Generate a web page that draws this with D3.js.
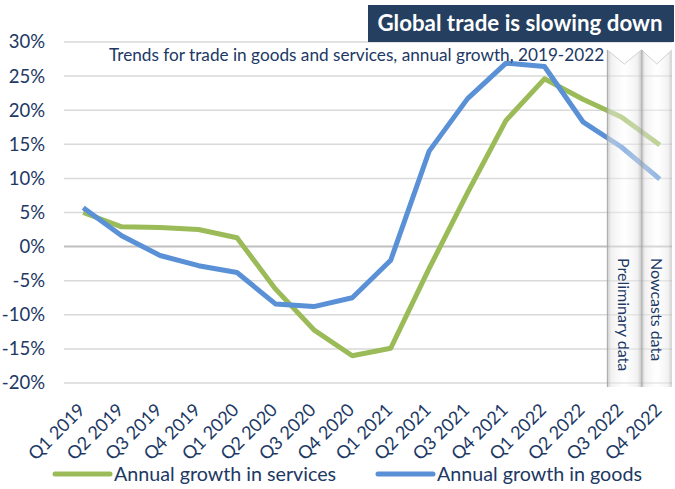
<!DOCTYPE html>
<html>
<head>
<meta charset="utf-8">
<script src="https://cdn.jsdelivr.net/npm/d3@7"></script>
<style>
  body { margin: 0; background: #fff; }
  svg { display: block; font-family: Lato, "Open Sans", sans-serif; }
</style>
</head>
<body>
<div id="chart"></div>
<script>
'use strict';

const quarters = ["Q1 2019", "Q2 2019", "Q3 2019", "Q4 2019", "Q1 2020", "Q2 2020", "Q3 2020", "Q4 2020",
    "Q1 2021", "Q2 2021", "Q3 2021", "Q4 2021", "Q1 2022", "Q2 2022", "Q3 2022", "Q4 2022"];

const services = [5.0, 2.9, 2.8, 2.5, 1.3, -6.2, -12.2, -16.0, -14.9, -3.2, 7.9, 18.5, 24.6, 21.6, 19.0, 14.9];
const goods = [5.7, 1.6, -1.3, -2.8, -3.8, -8.4, -8.8, -7.5, -2.0, 14.0, 21.7, 26.9, 26.4, 18.3, 14.6, 9.9];

const yTicks = [30, 25, 20, 15, 10, 5, 0, -5, -10, -15, -20];

const seriesNames = ["Annual growth in services", "Annual growth in goods"];
const panelLabels = [["Q3 2022", "Preliminary data"], ["Q4 2022", "Nowcasts data"]];

const titleText = "Global trade is slowing down";
const subtitleText = "Trends for trade in goods and services, annual growth, 2019-2022";

const navy = "#203864";
const green = "#9bbb59";
const blue = "#5990d6";

const width = 675, height = 489;

const svg = d3.select("#chart").append("svg")
    .attr("width", width)
    .attr("height", height);

const x = d3.scalePoint()
    .domain(quarters)
    .range([64, 679])
    .padding(0.5);

const y = d3.scaleLinear()
    .domain([-20, 30])
    .range([383, 42]);

// gridlines
svg.append("g")
    .selectAll("line")
    .data(yTicks)
    .enter()
    .append("line")
    .attr("x1", 64)
    .attr("x2", 672)
    .attr("y1", d => y(d))
    .attr("y2", d => y(d))
    .attr("stroke", d => d === 0 ? "#bfbfbf" : "#d9d9d9")
    .attr("stroke-width", d => d === 0 ? 2 : 1.5);

// y axis labels
svg.append("g")
    .selectAll("text")
    .data(yTicks)
    .enter()
    .append("text")
    .attr("x", 45)
    .attr("y", d => y(d))
    .attr("dy", "0.35em")
    .attr("text-anchor", "end")
    .attr("fill", navy)
    .style("font-size", "18.5px")
    .text(d => d + "%");

// x axis labels
svg.append("g")
    .selectAll("text")
    .data(quarters)
    .enter()
    .append("text")
    .attr("transform", d => "translate(" + (x(d) + 3) + ",411) rotate(-45)")
    .attr("text-anchor", "end")
    .attr("fill", navy)
    .style("font-size", "18px")
    .text(d => d);

// lines
const line = d3.line()
    .x((d, i) => x(quarters[i]))
    .y(d => y(d));

svg.append("path")
    .datum(services)
    .attr("d", line)
    .attr("fill", "none")
    .attr("stroke", green)
    .attr("stroke-width", 5)
    .attr("stroke-linejoin", "round");

svg.append("path")
    .datum(goods)
    .attr("d", line)
    .attr("fill", "none")
    .attr("stroke", blue)
    .attr("stroke-width", 5)
    .attr("stroke-linejoin", "round");

// shaded panels for preliminary / nowcast quarters
const defs = svg.append("defs");
const grad = defs.append("linearGradient")
    .attr("id", "panelGrad")
    .attr("x1", "0%").attr("x2", "100%")
    .attr("y1", "0%").attr("y2", "0%");
[[0, "#b8b8b8", 0.75], [0.12, "#e6e6e6", 0.55], [0.5, "#ffffff", 0.35], [0.88, "#e6e6e6", 0.55], [1, "#b8b8b8", 0.75]]
    .forEach(s => grad.append("stop")
        .attr("offset", s[0])
        .attr("stop-color", s[1])
        .attr("stop-opacity", s[2]));

const panelEdges = [[-14, 20], [-18, 12]];
const panelTop = 50, panelBottom = 387;

panelLabels.forEach((p, i) => {
    const cx = x(p[0]);
    const x0 = cx + panelEdges[i][0];
    const x1 = cx + panelEdges[i][1];
    const xm = (x0 + x1) / 2;
    svg.append("path")
        .attr("d", "M" + x0 + "," + panelTop + " L" + xm + "," + (panelTop + 14) + " L" + x1 + "," + panelTop +
            " L" + x1 + "," + panelBottom + " L" + x0 + "," + panelBottom + " Z")
        .attr("fill", "url(#panelGrad)");
    svg.append("path")
        .attr("d", "M" + x0 + "," + panelTop + " L" + xm + "," + (panelTop + 14) + " L" + x1 + "," + panelTop)
        .attr("fill", "none")
        .attr("stroke", "#d0d0d0")
        .attr("stroke-width", 1);
    svg.append("line")
        .attr("x1", x0).attr("x2", x0)
        .attr("y1", panelTop).attr("y2", panelBottom)
        .attr("stroke", "#a6a6a6")
        .attr("stroke-width", 1);
    svg.append("text")
        .attr("transform", "translate(" + (xm - 6) + ",258) rotate(90)")
        .attr("fill", navy)
        .style("font-size", "16px")
        .text(p[1]);
});

// title box
svg.append("rect")
    .attr("x", 368)
    .attr("y", 5)
    .attr("width", 306)
    .attr("height", 37)
    .attr("fill", "#243f60");

svg.append("text")
    .attr("x", 520)
    .attr("y", 31)
    .attr("text-anchor", "middle")
    .attr("fill", "#fff")
    .style("font-size", "22.3px")
    .style("font-weight", "bold")
    .text(titleText);

svg.append("text")
    .attr("x", 109)
    .attr("y", 61)
    .attr("fill", navy)
    .style("font-size", "17.2px")
    .text(subtitleText);

// legend
const legend = [[55, green], [378, blue]];
legend.forEach((l, i) => {
    svg.append("line")
        .attr("x1", l[0]).attr("x2", l[0] + 55)
        .attr("y1", 474).attr("y2", 474)
        .attr("stroke", l[1])
        .attr("stroke-width", 5)
        .attr("stroke-linecap", "round");
    svg.append("text")
        .attr("x", l[0] + 59)
        .attr("y", 481)
        .attr("fill", navy)
        .style("font-size", "19.7px")
        .text(seriesNames[i]);
});
</script>
</body>
</html>
